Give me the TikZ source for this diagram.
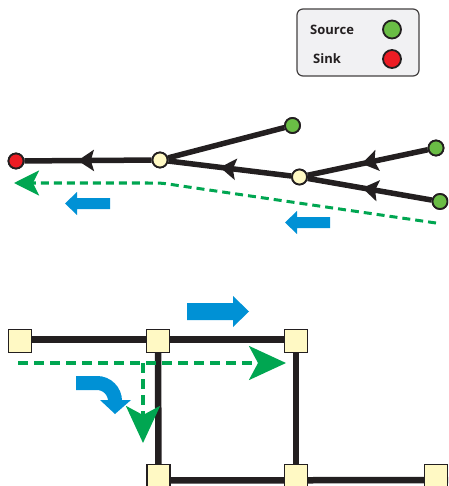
\documentclass[tikz,border=0pt]{standalone}
\usepackage{fontspec}
\setmainfont{Open Sans}
\usetikzlibrary{arrows.meta,decorations.markings,calc}

\definecolor{ink}{RGB}{35,31,32}
\definecolor{nodeyellow}{RGB}{255,249,196}
\definecolor{srcgreen}{RGB}{106,189,69}
\definecolor{sinkred}{RGB}{237,28,36}
\definecolor{flowgreen}{RGB}{0,166,81}
\definecolor{flowblue}{RGB}{0,145,213}
\definecolor{panel}{RGB}{241,241,243}

\tikzset{
  dot/.style={circle, draw=ink, line width=1.8pt, minimum size=15pt, inner sep=0pt},
  junction/.style={dot, fill=nodeyellow},
  source/.style={dot, fill=srcgreen},
  sink/.style={dot, fill=sinkred},
  cell/.style={rectangle, draw=ink, line width=1.4pt, fill=nodeyellow, minimum size=23pt, inner sep=0pt},
  pipe/.style={draw=ink, line width=5.5pt},
  street/.style={draw=ink, line width=6.5pt},
  midarrow/.style={postaction={decorate}, decoration={markings,
      mark=at position #1 with {\arrow{Stealth[length=16pt,width=21pt,inset=3pt]}}}},
  treeflow/.style={draw=flowgreen, line width=3pt, dash pattern=on 8pt off 5pt,
      -{Stealth[length=25pt,width=25pt,inset=6pt]}},
  gridflow/.style={draw=flowgreen, line width=3.2pt, dash pattern=on 10pt off 6pt,
      -{Stealth[length=37pt,width=34pt,inset=9pt]}},
  legendbox/.style={draw=ink!85, line width=1.2pt, fill=panel, rounded corners=6pt},
  legendtext/.style={font=\fontsize{13}{15}\selectfont\bfseries, text=ink, anchor=west, inner sep=0pt},
}

\begin{document}
\begin{tikzpicture}[x=1pt, y=-1pt]
\useasboundingbox (0,0) rectangle (448,486);
\clip (0,0) rectangle (448,486);

% ---- legend ----
\node[legendbox, minimum width=122pt, minimum height=67pt] (legend) at (358,42.5) {};
\node[legendtext] (srclabel) at (310,29.5) {Source};
\node[legendtext] (sinklabel) at (313,59) {Sink};
\node[source, minimum size=18pt] (srckey) at (392,29.5) {};
\node[sink, minimum size=18pt] (sinkkey) at (392,59) {};

% ---- tree network ----
\node[sink] (t0) at (16,161) {};
\node[junction] (j1) at (160,160) {};
\node[source] (s1) at (292.5,125.5) {};
\node[junction] (j2) at (299.5,177) {};
\node[source] (s2) at (436,148) {};
\node[source] (s3) at (440,201.5) {};

\draw[pipe] (s1) -- (j1);
\draw[pipe, midarrow=0.58] (j1) -- (t0);
\draw[pipe, midarrow=0.58] (j2) -- (j1);
\draw[pipe, midarrow=0.55] (s2) -- (j2);
\draw[pipe, midarrow=0.56] (s3) -- (j2);
% redraw the nodes above the pipes
\node[sink] at (t0) {};
\node[junction] at (j1) {};
\node[source] at (s1) {};
\node[junction] at (j2) {};
\node[source] at (s2) {};
\node[source] at (s3) {};

% flow path along the tree
\coordinate (ta) at (436,223);
\coordinate (tb) at (178,185.5);
\coordinate (tc) at (148,183);
\coordinate (td) at (14,183);
\draw[treeflow] (ta) -- (tb) .. controls (162,183) .. (tc) -- (td);

% flow direction markers
\fill[flowblue] (110,198) -- (77,198) -- (77,192) -- (65,203.5) -- (77,215) -- (77,209) -- (110,209) -- cycle;
\fill[flowblue] (330,217) -- (297,217) -- (297,211) -- (285,222.5) -- (297,234) -- (297,228) -- (330,228) -- cycle;

% ---- street grid ----
\node[cell] (g1) at (20,341) {};
\node[cell] (g2) at (158,341) {};
\node[cell] (g3) at (296,341) {};
\node[cell] (g4) at (158.5,476) {};
\node[cell] (g5) at (296,476) {};
\node[cell] (g6) at (436,476) {};
\coordinate (gedge) at (460,480);

\draw[street] ($(g1.center)+(0,-1.5)$) -- ($(g3.center)+(0,-1.5)$);
\draw[street] (g2.center) -- (g4.center);
\draw[street] (g3.center) -- (g5.center);
\draw[street] ($(g4.center)+(0,4.5)$) -- (gedge);
\foreach \n in {g1,g2,g3,g4,g5,g6} \node[cell] at (\n) {};

% flow paths through the grid
\coordinate (fa) at (18,363);
\coordinate (fb) at (143,363);
\coordinate (fc) at (286,363);
\coordinate (fd) at (143,443);
\draw[gridflow] (fa) -- (fc);
\draw[gridflow] (fb) -- (fd);

% flow direction markers
\fill[flowblue] (187,303) -- (233,303) -- (233,296) -- (249,311.5) -- (233,327) -- (233,320) -- (187,320) -- cycle;
\draw[flowblue, line width=14pt] (76,383) -- (97,383) arc[start angle=-90, end angle=0, radius=18];
\fill[flowblue] (100,400) -- (131,400) -- (115,414) -- cycle;
\end{tikzpicture}
\end{document}
